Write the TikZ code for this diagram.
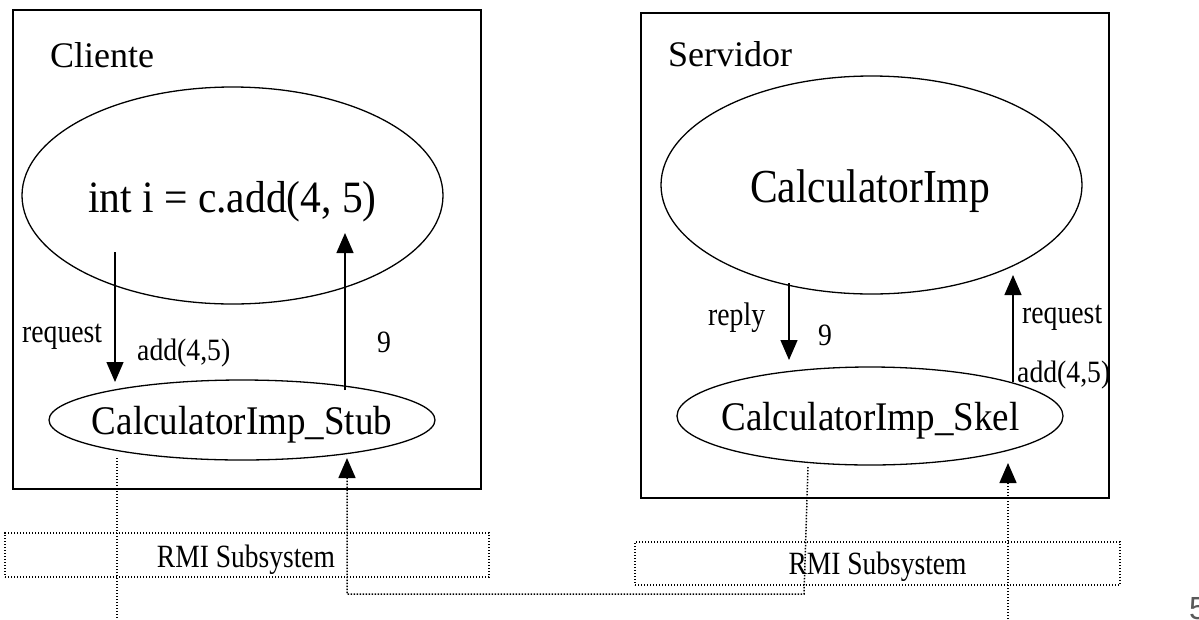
\documentclass[tikz,border=0pt]{standalone}
\usepackage{fontspec}
\setmainfont{Liberation Serif}
\newfontfamily\pagefont{Liberation Sans}
\usetikzlibrary{shapes.geometric,arrows.meta}
\newcommand{\tallx}[2][1.12]{\scalebox{1}[#1]{#2}}
\begin{document}
\begin{tikzpicture}[x=1pt,y=-1pt,
  frame/.style={draw, line width=1.5pt, anchor=north west, inner sep=0pt},
  oval/.style={draw, ellipse, line width=1.3pt, inner sep=0pt},
  txt/.style={anchor=base, inner sep=0pt},
  lbl/.style={anchor=base west, inner sep=0pt, font=\fontsize{27.7}{32}\selectfont},
  arr/.style={line width=1.3pt, -{Triangle[length=20pt,width=17pt]}},
  dots/.style={line width=1.5pt, dash pattern=on 1.4pt off 1.6pt},
  darr/.style={dots, -{Triangle[length=20pt,width=17pt]}},
  rmi/.style={dots, draw, inner sep=0pt, minimum height=44pt},
  rmitxt/.style={anchor=base, inner sep=0pt, font=\fontsize{27.5}{32}\selectfont}]

\useasboundingbox (0,0) rectangle (1199,619);

% frames
\node[frame, minimum width=468pt, minimum height=479pt] (client) at (12,9) {};
\node[frame, minimum width=468pt, minimum height=485pt] (server) at (640,12) {};
\node[lbl, font=\fontsize{36}{40}\selectfont] (clabel) at (50,67) {Cliente};
\node[lbl, font=\fontsize{36}{40}\selectfont] (slabel) at (668,66) {Servidor};

% ellipses
\node[oval, minimum width=421pt, minimum height=217pt] (cli) at (232.5,195.5) {};
\node[txt, font=\fontsize{41.5}{48}\selectfont] (clitxt) at (232.5,212) {\tallx[1.08]{int i = c.add(4, 5)}};
\node[oval, minimum width=421pt, minimum height=218pt] (imp) at (871.5,185) {};
\node[txt, font=\fontsize{41.5}{48}\selectfont] (imptxt) at (870,202) {\tallx[1.14]{CalculatorImp}};
\node[oval, minimum width=386pt, minimum height=80pt] (stub) at (242,420) {};
\node[txt, font=\fontsize{37}{42}\selectfont] (stubtxt) at (242,434) {\tallx[1.1]{CalculatorImp\_Stub}};
\node[oval, minimum width=386pt, minimum height=98pt] (skel) at (870,416) {};
\node[txt, font=\fontsize{37}{42}\selectfont] (skeltxt) at (870.5,430) {\tallx[1.1]{CalculatorImp\_Skel}};

% connector end points
\coordinate (c1a) at (115,252);  \coordinate (c1b) at (115,382);
\coordinate (c2a) at (345,390);  \coordinate (c2b) at (345,233);
\coordinate (s1a) at (789,283);  \coordinate (s1b) at (789,360);
\coordinate (s2a) at (1013,382); \coordinate (s2b) at (1013,275);

\draw[arr] (c1a) -- (c1b);
\draw[arr] (c2a) -- (c2b);
\draw[arr] (s1a) -- (s1b);
\draw[arr] (s2a) -- (s2b);

% labels
\node[lbl] (l1) at (22,342) {\tallx[1.18]{request}};
\node[lbl] (l2) at (137,360) {\tallx{add(4,5)}};
\node[lbl] (l3) at (377,352) {\tallx{9}};
\node[lbl] (l4) at (708,325) {\tallx[1.18]{reply}};
\node[lbl] (l5) at (818,345) {\tallx{9}};
\node[lbl] (l6) at (1022,323) {\tallx[1.18]{request}};
\node[lbl] (l7) at (1017,382) {\tallx{add(4,5)}};

% RMI subsystems
\node[rmi, minimum width=484pt] (rmi1) at (247,555) {};
\node[rmitxt] (rmi1t) at (246,567) {\tallx[1.18]{RMI Subsystem}};
\node[rmi, minimum width=485pt, minimum height=43pt] (rmi2) at (877.5,563.5) {};
\node[rmitxt] (rmi2t) at (877.5,574) {\tallx[1.18]{RMI Subsystem}};

% dotted paths
\coordinate (d1a) at (117,458); \coordinate (d1b) at (117,619);
\coordinate (d2a) at (808,467); \coordinate (d2b) at (804,594);
\coordinate (d2c) at (347,594); \coordinate (d2d) at (347,458);
\coordinate (d3a) at (1008,619); \coordinate (d3b) at (1008,463);
\draw[dots] (d1a) -- (d1b);
\draw[darr] (d2a) -- (d2b) -- (d2c) -- (d2d);
\draw[darr] (d3a) -- (d3b);

% page number
\node[anchor=base west, inner sep=0pt, text=black!65, font=\pagefont\fontsize{32}{36}\selectfont] (pg) at (1189,619) {5};
\end{tikzpicture}
\end{document}
